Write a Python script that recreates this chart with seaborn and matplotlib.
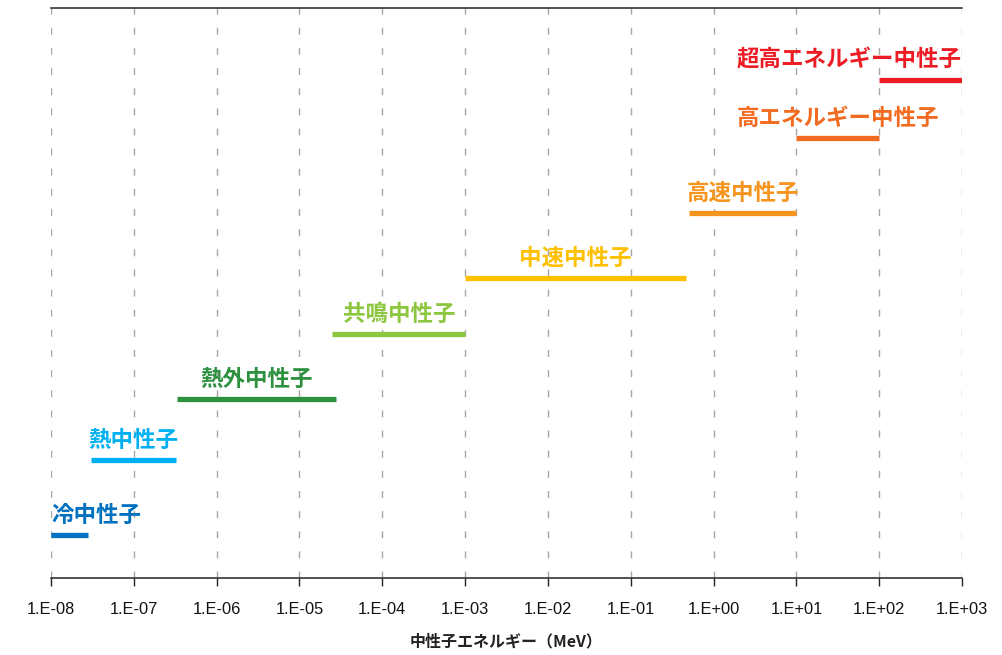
import numpy as np
import pandas as pd
import matplotlib
matplotlib.use("Agg")
import matplotlib.pyplot as plt
from matplotlib.ticker import FixedLocator, FuncFormatter, NullLocator
import seaborn as sns

# Neutron energy classes (energies in MeV)
categories = ["冷中性子", "熱中性子", "熱外中性子", "共鳴中性子",
              "中速中性子", "高速中性子", "高エネルギー中性子", "超高エネルギー中性子"]
e_start = [1e-8, 3e-8, 3.3e-7, 2.5e-5, 1e-3, 0.5, 10, 100]
e_end = [2.8e-8, 3.2e-7, 2.8e-5, 1e-3, 0.47, 10, 100, 1000]
levels = [0.75, 2.07, 3.14, 4.28, 5.26, 6.40, 7.72, 8.74]
colors = ["#0070C0", "#00B0F0", "#2E9140", "#8DC63F",
          "#FFC000", "#F7941D", "#F26B21", "#ED1C24"]
label_align = ["left", "center", "center", "center",
               "center", "center", "center", "right"]
tick_exponents = list(range(-8, 4))
x_label = "中性子エネルギー（MeV）"

sns.set_theme(style="white")
plt.rcParams["font.family"] = ["Noto Sans CJK JP", "DejaVu Sans"]

rows = []
for name, s, e, y in zip(categories, e_start, e_end, levels):
    rows.append({"category": name, "energy": s, "level": y})
    rows.append({"category": name, "energy": e, "level": y})
df = pd.DataFrame(rows)

fig = plt.figure(figsize=(10.02, 6.55), dpi=100)
ax = fig.add_axes([51 / 1002, 77 / 655, 911 / 1002, 570 / 655])
ax.set_xscale("log")

sns.lineplot(data=df, x="energy", y="level", hue="category",
             palette=dict(zip(categories, colors)), hue_order=categories,
             estimator=None, sort=False, linewidth=3.8, legend=False,
             solid_capstyle="butt", ax=ax)

ax.set_xlim(1e-8, 1e3)
ax.set_ylim(0, 10)

# decade grid
ax.xaxis.set_major_locator(FixedLocator([10.0 ** k for k in tick_exponents]))
ax.xaxis.set_minor_locator(NullLocator())
ax.xaxis.set_major_formatter(FuncFormatter(
    lambda v, _: f"1.E{int(round(np.log10(v))):+03d}"))
ax.grid(axis="x", color="#A6A6A6", linewidth=1.0, linestyle=(0, (5, 9.5)))
ax.grid(axis="y", visible=False)
ax.set_axisbelow(True)

ax.set_yticks([])
for side in ("left", "right"):
    ax.spines[side].set_visible(False)
for side in ("top", "bottom"):
    ax.spines[side].set_color("#222222")
    ax.spines[side].set_linewidth(1.1)

ax.tick_params(axis="x", which="major", direction="out", length=6, width=1.0,
               color="#222222", bottom=True, pad=11)
for lbl in ax.get_xticklabels():
    lbl.set_family(["Liberation Sans", "DejaVu Sans"])
    lbl.set_fontsize(11.8)
    lbl.set_color("#111111")

ax.set_xlabel(x_label, fontsize=11.5, fontweight="bold", color="#222222", labelpad=12)
ax.set_ylabel("")

# class names above each segment
for name, s, e, y, c, ha in zip(categories, e_start, e_end, levels, colors, label_align):
    if ha == "left":
        xpos = s
    elif ha == "right":
        xpos = e
    else:
        xpos = np.sqrt(s * e)
    ax.annotate(name, xy=(xpos, y), xytext=(0, 6), textcoords="offset points",
                ha=ha, va="bottom", fontsize=16.2, fontweight="bold", color=c)

fig.savefig("out.png", dpi=100)
